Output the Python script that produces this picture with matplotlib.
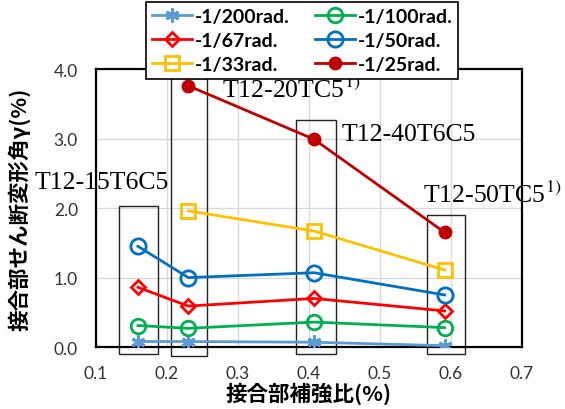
import matplotlib.pyplot as plt
from matplotlib.patches import Rectangle

# reinforcement ratio of each specimen group (%)
ratio = [0.159, 0.230, 0.407, 0.591]

# joint shear deformation angle (%) at each drift cycle
gamma_200 = [0.08, 0.08, 0.07, 0.02]
gamma_100 = [0.31, 0.27, 0.36, 0.28]
gamma_67 = [0.86, 0.59, 0.70, 0.52]
gamma_50 = [1.45, 1.00, 1.07, 0.75]
gamma_33 = [None, 1.96, 1.67, 1.11]
gamma_25 = [None, 3.76, 2.99, 1.65]

specimens = ['T12-15T6C5', 'T12-20TC5$^{1)}$', 'T12-40T6C5', 'T12-50TC5$^{1)}$']

# group frames: (x0, x1, y0, y1) in data units
frames = [(0.132, 0.187, -0.10, 2.03),
          (0.205, 0.256, -0.13, 3.87),
          (0.382, 0.438, -0.10, 3.27),
          (0.566, 0.620, -0.10, 1.90)]

plt.rcParams['mathtext.fontset'] = 'stix'

fig = plt.figure(figsize=(5.65, 4.1), dpi=100)
ax = fig.add_axes([0.170, 0.151, 0.754, 0.678])

series = [
    ('-1/200rad.', gamma_200, '#5B9BD5', dict(marker=(6, 2, 0), markersize=10, mew=2.2)),
    ('-1/100rad.', gamma_100, '#00B050', dict(marker='o', markersize=10.5, mfc='none', mew=2)),
    ('-1/67rad.', gamma_67, '#FF0000', dict(marker='D', markersize=7.5, mfc='none', mew=2)),
    ('-1/50rad.', gamma_50, '#0070C0', dict(marker='o', markersize=11, mfc='none', mew=2)),
    ('-1/33rad.', gamma_33, '#FFC000', dict(marker='s', markersize=10.5, mfc='none', mew=2)),
    ('-1/25rad.', gamma_25, '#C00000', dict(marker='o', markersize=9)),
]

lines = {}
for label, values, color, style in series:
    pts = [(x, y) for x, y in zip(ratio, values) if y is not None]
    xs, ys = zip(*pts)
    lines[label], = ax.plot(xs, ys, color=color, lw=2, label=label, zorder=3, **style)

for x0, x1, y0, y1 in frames:
    ax.add_patch(Rectangle((x0, y0), x1 - x0, y1 - y0, fill=False, ec='#222222',
                           lw=1, clip_on=False, zorder=2))

serif = dict(family='Liberation Serif', fontsize=18.5, va='center', ha='left')
ax.text(0.014, 2.37, specimens[0], **serif)
ax.text(0.277, 3.72, specimens[1], **serif)
ax.text(0.446, 3.06, specimens[2], **serif)
ax.text(0.561, 2.20, specimens[3], **serif)

ax.set_xlim(0.1, 0.7)
ax.set_ylim(0.0, 4.0)
ax.set_xticks([0.1, 0.2, 0.3, 0.4, 0.5, 0.6, 0.7])
ax.set_yticks([0.0, 1.0, 2.0, 3.0, 4.0])
ax.set_xticklabels(['0.1', '0.2', '0.3', '0.4', '0.5', '0.6', '0.7'])
ax.set_yticklabels(['0.0', '1.0', '2.0', '3.0', '4.0'])
ax.tick_params(length=0, labelsize=12.5, pad=13, labelcolor='#333333')
for lab in ax.get_xticklabels() + ax.get_yticklabels():
    lab.set_family('Lato')
ax.grid(True, color='#D9D9D9', lw=1)
ax.set_axisbelow(True)
for sp in ax.spines.values():
    sp.set_linewidth(1.6)

cjk = ['Noto Sans CJK JP', 'DejaVu Sans']
ax.set_xlabel('接合部補強比(%)', family=cjk, fontsize=15.5, fontweight='bold', labelpad=0)
ax.set_ylabel('接合部せん断変形角γ(%)', family=cjk, fontsize=15.5, fontweight='bold', labelpad=17)

# legend fills column by column, so order the handles to read across rows
order = ['-1/200rad.', '-1/67rad.', '-1/33rad.', '-1/100rad.', '-1/50rad.', '-1/25rad.']
leg = fig.legend([lines[k] for k in order], order,
                 loc='upper center', bbox_to_anchor=(0.535, 0.993), ncol=2,
                 frameon=True, fancybox=False, edgecolor='black', framealpha=1,
                 handlelength=2.05, columnspacing=1.3, handletextpad=0.15,
                 labelspacing=0.36, borderpad=0.3, borderaxespad=0,
                 prop=dict(family='Lato', weight='bold', size=14))
leg.get_frame().set_linewidth(1.2)

fig.savefig('out.png', dpi=100)
